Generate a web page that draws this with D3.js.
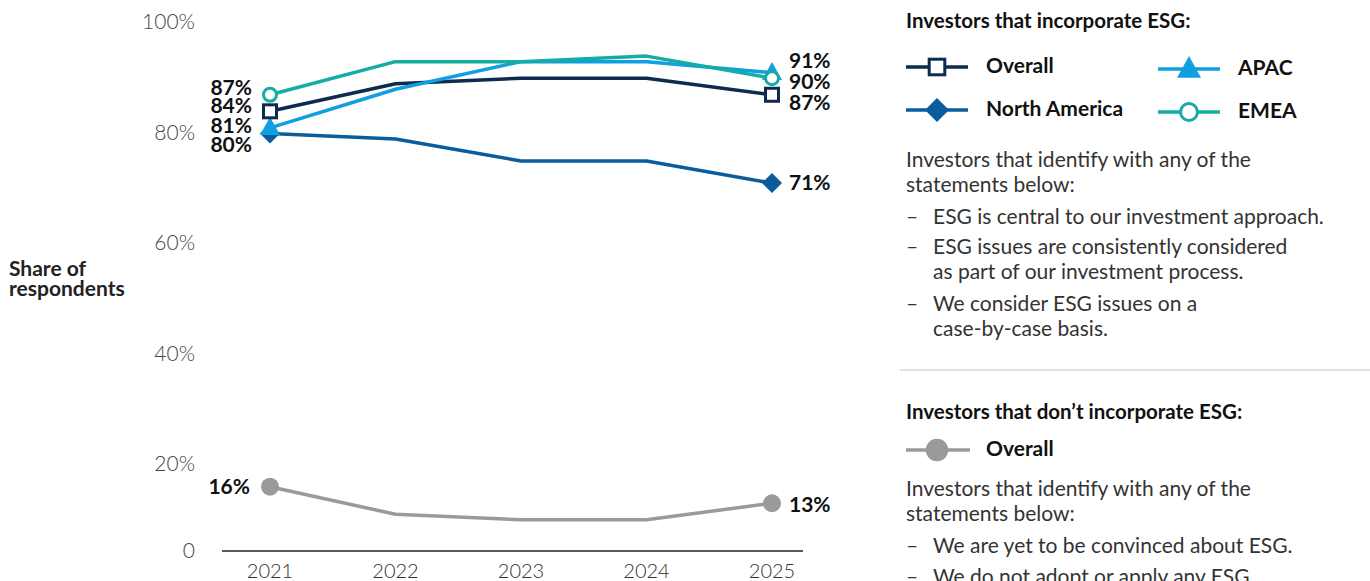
<!DOCTYPE html>
<html>
<head>
<meta charset="utf-8">
<script src="https://cdn.jsdelivr.net/npm/d3@7"></script>
<style>
  html, body { margin: 0; padding: 0; background: #fff; }
  svg { display: block; font-family: Lato, "Noto Sans", sans-serif; }
</style>
</head>
<body>
<svg id="chart" width="1370" height="581"></svg>
<script>
// ---- data ----
const years = ["2021", "2022", "2023", "2024", "2025"];
const overall = [84, 89, 90, 90, 87];
const northAmerica = [80, 79, 75, 75, 71];
const apac = [81, 88, 93, 93, 91];
const emea = [87, 93, 93, 94, 90];
const notIncorporate = [16, 11, 10, 10, 13];
const yTicks = [0, 20, 40, 60, 80, 100];

const series = [
  { name: "Overall", values: overall, color: "#0c2b4e", marker: "square" },
  { name: "North America", values: northAmerica, color: "#0a5c9c", marker: "diamond" },
  { name: "APAC", values: apac, color: "#109fe0", marker: "triangle" },
  { name: "EMEA", values: emea, color: "#15ada3", marker: "circle" },
  { name: "Overall (not ESG)", values: notIncorporate, color: "#9a9a9a", marker: "dot" }
];

const svg = d3.select("#chart");

// ---- scales ----
const baseline = 551;
const x = d3.scalePoint().domain(years).range([270, 772]);
const y = d3.scaleLinear().domain([0, 100]).range([575, 23]);

// ---- axes ----
svg.append("line")
  .attr("x1", 222).attr("x2", 803)
  .attr("y1", baseline).attr("y2", baseline)
  .attr("stroke", "#222").attr("stroke-width", 1.3);

svg.append("g").selectAll("text")
  .data(yTicks)
  .join("text")
  .attr("x", 195)
  .attr("y", d => d === 0 ? baseline : y(d) - 1)
  .attr("dy", "0.35em")
  .attr("text-anchor", "end")
  .attr("font-size", 21)
  .attr("font-weight", 300)
  .attr("fill", "#444")
  .text(d => d === 0 ? "0" : d + "%");

svg.append("g").selectAll("text")
  .data(years)
  .join("text")
  .attr("x", d => x(d))
  .attr("y", 571)
  .attr("dy", "0.35em")
  .attr("text-anchor", "middle")
  .attr("font-size", 20)
  .attr("font-weight", 300)
  .attr("fill", "#333")
  .text(d => d);

svg.append("text")
  .attr("x", 9).attr("y", 269)
  .attr("dy", "0.35em")
  .attr("font-size", 21).attr("font-weight", 700).attr("fill", "#222")
  .text("Share of");
svg.append("text")
  .attr("x", 9).attr("y", 289)
  .attr("dy", "0.35em")
  .attr("font-size", 21).attr("font-weight", 700).attr("fill", "#222")
  .text("respondents");

// ---- markers ----
function drawMarker(g, type, color, cx, cy, scale = 1) {
  if (type === "square") {
    const s = 13 * scale;
    g.append("rect").attr("x", cx - s / 2).attr("y", cy - s / 2)
      .attr("width", s).attr("height", s)
      .attr("fill", "#fff").attr("stroke", color).attr("stroke-width", 3);
  } else if (type === "diamond") {
    const r = 10 * scale;
    g.append("path")
      .attr("d", `M${cx},${cy - r}L${cx + r},${cy}L${cx},${cy + r}L${cx - r},${cy}Z`)
      .attr("fill", color);
  } else if (type === "triangle") {
    const w = 20 * scale, h = 18 * scale;
    g.append("path")
      .attr("d", `M${cx},${cy - h * 0.6}L${cx + w / 2},${cy + h * 0.4}L${cx - w / 2},${cy + h * 0.4}Z`)
      .attr("fill", color);
  } else if (type === "circle") {
    g.append("circle").attr("cx", cx).attr("cy", cy).attr("r", 6.5 * scale)
      .attr("fill", "#fff").attr("stroke", color).attr("stroke-width", 3);
  } else if (type === "dot") {
    g.append("circle").attr("cx", cx).attr("cy", cy).attr("r", 9 * scale)
      .attr("fill", color);
  }
}

// ---- lines ----
const line = d3.line()
  .x((d, i) => x(years[i]))
  .y(d => y(d));

const drawOrder = [4, 1, 0, 2, 3];
drawOrder.forEach(k => {
  const s = series[k];
  svg.append("path")
    .datum(s.values)
    .attr("d", line)
    .attr("fill", "none")
    .attr("stroke", s.color)
    .attr("stroke-width", 3.5)
    .attr("stroke-linejoin", "round");
});
// markers on first and last points, hollow ones drawn last
[4, 1, 2, 0, 3].forEach(k => {
  const s = series[k];
  const g = svg.append("g");
  [0, years.length - 1].forEach(i => {
    drawMarker(g, s.marker, s.color, x(years[i]), y(s.values[i]));
  });
});

// ---- value labels ----
const startLabels = [
  { v: emea[0], y: 88 },
  { v: overall[0], y: 106 },
  { v: apac[0], y: 126 },
  { v: northAmerica[0], y: 145 },
  { v: notIncorporate[0], y: y(notIncorporate[0]) }
];
const endLabels = [
  { v: apac[4], y: 61 },
  { v: emea[4], y: 82 },
  { v: overall[4], y: 103 },
  { v: northAmerica[4], y: y(northAmerica[4]) },
  { v: notIncorporate[4], y: y(notIncorporate[4]) + 1 }
];
svg.append("g").selectAll("text")
  .data(startLabels)
  .join("text")
  .attr("x", (d, i) => i === 4 ? 250 : 252)
  .attr("y", d => d.y)
  .attr("dy", "0.35em")
  .attr("text-anchor", "end")
  .attr("font-size", 21).attr("font-weight", 700).attr("fill", "#111")
  .text(d => d.v + "%");
svg.append("g").selectAll("text")
  .data(endLabels)
  .join("text")
  .attr("x", 789)
  .attr("y", d => d.y)
  .attr("dy", "0.35em")
  .attr("font-size", 21).attr("font-weight", 700).attr("fill", "#111")
  .text(d => d.v + "%");

// ---- legend panel ----
const panel = svg.append("g");
const headStyle = t => t.attr("font-size", 20.5).attr("font-weight", 700).attr("fill", "#111");
const bodyStyle = t => t.attr("font-size", 21).attr("font-weight", 400).attr("fill", "#333");

headStyle(panel.append("text").attr("x", 906).attr("y", 21).attr("dy", "0.35em")
  .text("Investors that incorporate ESG:"));

const legendItems = [
  { s: series[0], x: 906, y: 67, label: "Overall" },
  { s: series[2], x: 1158, y: 69, label: "APAC" },
  { s: series[1], x: 906, y: 110, label: "North America" },
  { s: series[3], x: 1158, y: 112, label: "EMEA" }
];
legendItems.forEach(d => {
  const g = panel.append("g");
  g.append("line").attr("x1", d.x).attr("x2", d.x + 62)
    .attr("y1", d.y).attr("y2", d.y)
    .attr("stroke", d.s.color).attr("stroke-width", 3.5);
  const sc = d.s.marker === "square" ? 1.2 : d.s.marker === "circle" ? 1.3 : 1.2;
  drawMarker(g, d.s.marker, d.s.color, d.x + 31, d.y, sc);
  g.append("text").attr("x", d.x + 80).attr("y", d.y - 1).attr("dy", "0.35em")
    .attr("font-size", 21).attr("font-weight", 700).attr("fill", "#111")
    .text(d.label);
});

const para1 = ["Investors that identify with any of the", "statements below:"];
para1.forEach((t, i) => bodyStyle(panel.append("text").attr("x", 906)
  .attr("y", 160 + i * 25).attr("dy", "0.35em").text(t)));

const bullets1 = [
  { y: 217, lines: ["ESG is central to our investment approach."] },
  { y: 247, lines: ["ESG issues are consistently considered", "as part of our investment process."] },
  { y: 304, lines: ["We consider ESG issues on a", "case-by-case basis."] }
];
function drawBullets(list) {
  list.forEach(b => {
    bodyStyle(panel.append("text").attr("x", 906).attr("y", b.y).attr("dy", "0.35em").text("–"));
    b.lines.forEach((t, i) => bodyStyle(panel.append("text").attr("x", 933)
      .attr("y", b.y + i * 25).attr("dy", "0.35em").text(t)));
  });
}
drawBullets(bullets1);

panel.append("line").attr("x1", 900).attr("x2", 1370)
  .attr("y1", 370).attr("y2", 370)
  .attr("stroke", "#d9d9d9").attr("stroke-width", 1.5);

headStyle(panel.append("text").attr("x", 906).attr("y", 412).attr("dy", "0.35em")
  .text("Investors that don\u2019t incorporate ESG:"));

{
  const g = panel.append("g");
  g.append("line").attr("x1", 906).attr("x2", 970)
    .attr("y1", 450).attr("y2", 450)
    .attr("stroke", series[4].color).attr("stroke-width", 3.5);
  drawMarker(g, "dot", series[4].color, 937, 450, 1.25);
  g.append("text").attr("x", 986).attr("y", 449).attr("dy", "0.35em")
    .attr("font-size", 21).attr("font-weight", 700).attr("fill", "#111")
    .text("Overall");
}

const para2 = ["Investors that identify with any of the", "statements below:"];
para2.forEach((t, i) => bodyStyle(panel.append("text").attr("x", 906)
  .attr("y", 489 + i * 25).attr("dy", "0.35em").text(t)));

drawBullets([
  { y: 546, lines: ["We are yet to be convinced about ESG."] },
  { y: 577, lines: ["We do not adopt or apply any ESG"] }
]);
</script>
</body>
</html>
